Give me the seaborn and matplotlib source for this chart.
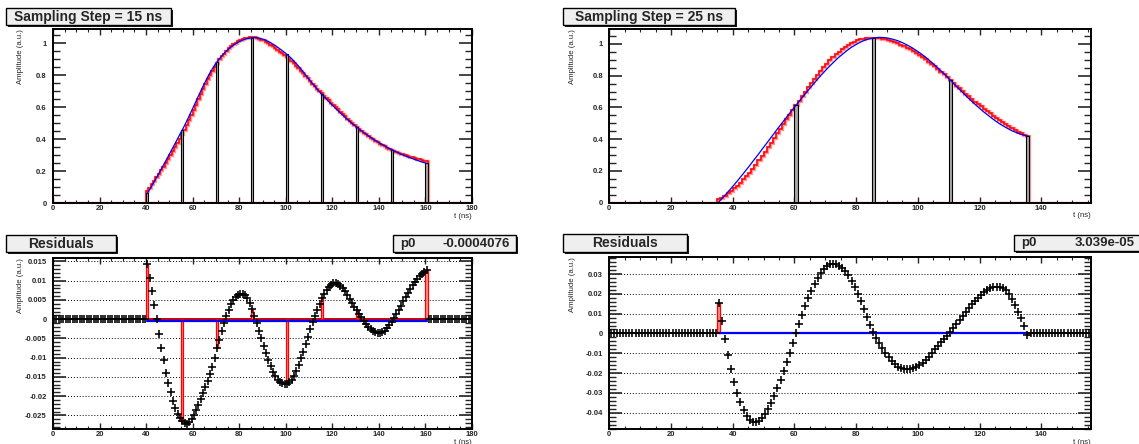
import numpy as np
import matplotlib
matplotlib.use("Agg")
import matplotlib.pyplot as plt
from matplotlib.patches import Rectangle
from matplotlib.ticker import FixedLocator, MultipleLocator
import seaborn as sns

W, H = 1139, 444

# ---------------- 15 ns sampling (1 ns bins, t = 40 ... 160) ----------------
t15_first, t15_last = 40, 160
pulse15 = [
    0.060, 0.084, 0.109, 0.134, 0.160, 0.186, 0.212, 0.239, 0.265, 0.292, 0.320, 0.347, 0.374, 0.402, 0.430,
    0.457, 0.485, 0.515, 0.545, 0.576, 0.608, 0.639, 0.671, 0.702, 0.732, 0.762, 0.790, 0.817, 0.842, 0.865,
    0.885, 0.904, 0.921, 0.937, 0.952, 0.965, 0.977, 0.988, 0.998, 1.007, 1.014, 1.021, 1.026, 1.030, 1.033,
    1.035, 1.036, 1.035, 1.033, 1.029, 1.025, 1.019, 1.012, 1.004, 0.995, 0.986, 0.976, 0.965, 0.954, 0.943,
    0.931, 0.918, 0.905, 0.889, 0.873, 0.857, 0.839, 0.821, 0.803, 0.784, 0.766, 0.748, 0.730, 0.712, 0.696,
    0.680, 0.665, 0.650, 0.635, 0.620, 0.606, 0.591, 0.577, 0.563, 0.550, 0.536, 0.523, 0.510, 0.498, 0.486,
    0.474, 0.463, 0.452, 0.441, 0.431, 0.420, 0.411, 0.401, 0.392, 0.383, 0.374, 0.366, 0.358, 0.349, 0.342,
    0.334, 0.327, 0.320, 0.313, 0.306, 0.300, 0.294, 0.288, 0.283, 0.278, 0.272, 0.267, 0.262, 0.257, 0.253,
    0.248]
recon15 = [
    0.074, 0.095, 0.116, 0.138, 0.160, 0.182, 0.205, 0.228, 0.251, 0.275, 0.301, 0.326, 0.351, 0.378, 0.404,
    0.431, 0.458, 0.488, 0.518, 0.550, 0.583, 0.615, 0.649, 0.681, 0.713, 0.745, 0.774, 0.803, 0.830, 0.855,
    0.877, 0.899, 0.918, 0.936, 0.953, 0.968, 0.981, 0.993, 1.004, 1.013, 1.021, 1.028, 1.032, 1.036, 1.037,
    1.038, 1.037, 1.034, 1.030, 1.024, 1.018, 1.010, 1.001, 0.992, 0.981, 0.971, 0.960, 0.949, 0.937, 0.926,
    0.914, 0.902, 0.889, 0.874, 0.860, 0.845, 0.829, 0.813, 0.797, 0.780, 0.763, 0.747, 0.731, 0.715, 0.700,
    0.686, 0.672, 0.658, 0.643, 0.629, 0.615, 0.600, 0.586, 0.572, 0.558, 0.543, 0.529, 0.515, 0.502, 0.489,
    0.476, 0.464, 0.453, 0.441, 0.430, 0.418, 0.409, 0.398, 0.389, 0.379, 0.370, 0.363, 0.355, 0.347, 0.340,
    0.333, 0.327, 0.321, 0.315, 0.310, 0.305, 0.300, 0.295, 0.291, 0.287, 0.282, 0.278, 0.273, 0.269, 0.265,
    0.261]
resid15 = [
    0.0143, 0.0108, 0.0074, 0.0036, 0.0000, -0.0039, -0.0074, -0.0106, -0.0139, -0.0167, -0.0190, -0.0213, -0.0230, -0.0245, -0.0256,
    -0.0264, -0.0270, -0.0271, -0.0268, -0.0260, -0.0250, -0.0237, -0.0223, -0.0207, -0.0192, -0.0175, -0.0160, -0.0143, -0.0124, -0.0101,
    -0.0076, -0.0053, -0.0031, -0.0011, 0.0008, 0.0025, 0.0039, 0.0050, 0.0058, 0.0063, 0.0066, 0.0066, 0.0062, 0.0055, 0.0043,
    0.0027, 0.0009, -0.0010, -0.0030, -0.0050, -0.0070, -0.0089, -0.0106, -0.0122, -0.0136, -0.0148, -0.0157, -0.0163, -0.0167, -0.0169,
    -0.0168, -0.0164, -0.0157, -0.0147, -0.0134, -0.0119, -0.0102, -0.0084, -0.0065, -0.0045, -0.0026, -0.0008, 0.0009, 0.0025, 0.0040,
    0.0055, 0.0065, 0.0075, 0.0083, 0.0089, 0.0093, 0.0094, 0.0092, 0.0086, 0.0080, 0.0072, 0.0063, 0.0053, 0.0043, 0.0033,
    0.0024, 0.0014, 0.0005, -0.0004, -0.0012, -0.0019, -0.0025, -0.0030, -0.0034, -0.0036, -0.0036, -0.0034, -0.0030, -0.0024, -0.0016,
    -0.0008, 0.0002, 0.0013, 0.0024, 0.0035, 0.0046, 0.0057, 0.0068, 0.0078, 0.0088, 0.0097, 0.0105, 0.0112, 0.0118, 0.0123,
    0.0127]
samples15_t = [40, 55, 70, 85, 100, 115, 130, 145, 160]
samples15_v = [0.060, 0.457, 0.885, 1.035, 0.931, 0.680, 0.474, 0.334, 0.248]
p0_15 = -0.0004076
p0_15_text = "-0.0004076"

# ---------------- 25 ns sampling (1 ns bins, t = 35 ... 135) ----------------
t25_first, t25_last = 35, 135
pulse25 = [
    0.006, 0.026, 0.047, 0.069, 0.091, 0.114, 0.137, 0.161, 0.185, 0.210, 0.234, 0.260, 0.285, 0.310, 0.336, 0.362, 0.387, 0.413, 0.439, 0.465, 0.490, 0.515, 0.540, 0.565, 0.590,
    0.614, 0.638, 0.662, 0.686, 0.709, 0.732, 0.755, 0.778, 0.800, 0.821, 0.842, 0.862, 0.881, 0.900, 0.918, 0.934, 0.950, 0.965, 0.979, 0.991, 1.002, 1.012, 1.021, 1.028, 1.033,
    1.037, 1.039, 1.041, 1.040, 1.039, 1.036, 1.031, 1.026, 1.020, 1.012, 1.003, 0.993, 0.983, 0.971, 0.958, 0.945, 0.931, 0.916, 0.900, 0.883, 0.866, 0.848, 0.830, 0.811, 0.792,
    0.772, 0.752, 0.732, 0.713, 0.694, 0.675, 0.656, 0.638, 0.620, 0.603, 0.586, 0.569, 0.554, 0.539, 0.524, 0.510, 0.497, 0.485, 0.474, 0.463, 0.453, 0.445, 0.437, 0.430, 0.425,
    0.420]
recon25 = [
    0.022, 0.032, 0.044, 0.058, 0.073, 0.090, 0.107, 0.127, 0.147, 0.169, 0.190, 0.215, 0.240, 0.266, 0.293, 0.321, 0.349, 0.378, 0.408, 0.437, 0.467, 0.496, 0.526, 0.555, 0.585,
    0.614, 0.643, 0.671, 0.700, 0.727, 0.754, 0.780, 0.806, 0.831, 0.854, 0.876, 0.897, 0.916, 0.935, 0.952, 0.967, 0.981, 0.994, 1.006, 1.015, 1.022, 1.028, 1.033, 1.036, 1.037,
    1.038, 1.037, 1.036, 1.032, 1.029, 1.024, 1.017, 1.010, 1.003, 0.994, 0.985, 0.975, 0.965, 0.953, 0.941, 0.929, 0.916, 0.903, 0.888, 0.873, 0.858, 0.842, 0.826, 0.808, 0.791,
    0.773, 0.755, 0.737, 0.720, 0.703, 0.686, 0.669, 0.653, 0.636, 0.621, 0.606, 0.590, 0.576, 0.562, 0.547, 0.534, 0.521, 0.508, 0.496, 0.483, 0.470, 0.459, 0.448, 0.438, 0.429,
    0.419]
resid25 = [
    0.0155, 0.0062, -0.0030, -0.0110, -0.0178, -0.0244, -0.0300, -0.0345, -0.0385, -0.0415, -0.0436, -0.0447, -0.0448, -0.0441, -0.0427, -0.0407, -0.0381, -0.0350, -0.0315, -0.0276, -0.0234, -0.0190, -0.0144, -0.0097, -0.0050,
    0.0000, 0.0046, 0.0092, 0.0137, 0.0178, 0.0216, 0.0250, 0.0280, 0.0305, 0.0325, 0.0340, 0.0349, 0.0352, 0.0350, 0.0342, 0.0330, 0.0314, 0.0293, 0.0267, 0.0236, 0.0200, 0.0162, 0.0122, 0.0082, 0.0044,
    0.0006, -0.0022, -0.0050, -0.0076, -0.0099, -0.0121, -0.0140, -0.0156, -0.0169, -0.0177, -0.0182, -0.0182, -0.0180, -0.0176, -0.0169, -0.0160, -0.0148, -0.0134, -0.0118, -0.0100, -0.0081, -0.0062, -0.0043, -0.0030, -0.0013,
    0.0005, 0.0025, 0.0048, 0.0068, 0.0090, 0.0110, 0.0129, 0.0147, 0.0163, 0.0180, 0.0195, 0.0208, 0.0219, 0.0228, 0.0234, 0.0237, 0.0236, 0.0230, 0.0219, 0.0200, 0.0174, 0.0143, 0.0110, 0.0076, 0.0038,
    -0.0008]
samples25_t = [35, 60, 85, 110, 135]
samples25_v = [0.006, 0.614, 1.037, 0.772, 0.420]
p0_25 = 3.039e-05
p0_25_text = "3.039e-05"

# ---------------- axis ticks / labels ----------------
xticks15 = [0, 20, 40, 60, 80, 100, 120, 140, 160, 180]
xticks25 = [0, 20, 40, 60, 80, 100, 120, 140]
amp_ticks = [0, 0.2, 0.4, 0.6, 0.8, 1.0]
amp_labels = ["0", "0.2", "0.4", "0.6", "0.8", "1"]
res15_ticks = [-0.025, -0.02, -0.015, -0.01, -0.005, 0, 0.005, 0.01, 0.015]
res15_labels = ["-0.025", "-0.02", "-0.015", "-0.01", "-0.005", "0", "0.005", "0.01", "0.015"]
res25_ticks = [-0.04, -0.03, -0.02, -0.01, 0, 0.01, 0.02, 0.03]
res25_labels = ["-0.04", "-0.03", "-0.02", "-0.01", "0", "0.01", "0.02", "0.03"]

sns.set_style("ticks")
plt.rcParams.update({
    "font.family": ["Liberation Sans", "DejaVu Sans"],
    "font.weight": "bold",
    "axes.linewidth": 1.4,
    "axes.edgecolor": "black",
})

fig = plt.figure(figsize=(W / 100, H / 100), dpi=100)
fig.patch.set_facecolor("white")


def px_axes(x0, y0, x1, y1):
    return fig.add_axes([x0 / W, 1 - y1 / H, (x1 - x0) / W, (y1 - y0) / H])


def style_axes(ax, xmax, ylim, xticks, yticks, ylabels, yminor):
    ax.set_xlim(0, xmax)
    ax.set_ylim(*ylim)
    ax.xaxis.set_major_locator(FixedLocator(xticks))
    ax.set_xticklabels([str(v) for v in xticks])
    ax.xaxis.set_minor_locator(MultipleLocator(5))
    ax.yaxis.set_major_locator(FixedLocator(yticks))
    ax.set_yticklabels(ylabels)
    ax.yaxis.set_minor_locator(MultipleLocator(yminor))
    ax.tick_params(axis="x", which="major", direction="in", length=4, width=1,
                   top=True, bottom=True, labelsize=5.5, pad=1.5)
    ax.tick_params(axis="x", which="minor", direction="in", length=2, width=0.8,
                   top=True, bottom=True)
    ax.tick_params(axis="y", which="major", direction="in", length=9.5, width=1.2,
                   left=True, right=True, labelsize=5.5, pad=4.5)
    ax.tick_params(axis="y", which="minor", direction="in", length=5, width=1,
                   left=True, right=True)
    ax.set_ylabel("Amplitude (a.u.)", fontsize=5.6, loc="top")
    ax.yaxis.set_label_coords(-0.069, 1.0)
    ax.set_xlabel("t (ns)", fontsize=5.6, loc="right")
    ax.xaxis.set_label_coords(1.0, -0.055)
    for s in ax.spines.values():
        s.set_linewidth(1.4)
        s.set_zorder(6)


def draw_pulse(ax, first, last, pulse, recon, st, sv):
    t = np.arange(first, last + 1)
    edges = np.arange(first, last + 2)
    ax.axhline(0, color="red", lw=1.6, zorder=2)
    ax.stairs(recon, edges, baseline=0, color="#ff9a9a", lw=2.4, zorder=2)
    ax.stairs(recon, edges, baseline=0, color="red", lw=1.1, zorder=3)
    ax.bar(st, sv, width=1, align="edge", facecolor="#a8a8a8",
           edgecolor="black", linewidth=0.8, zorder=4)
    sns.lineplot(x=t + 0.5, y=pulse, ax=ax, color="blue", lw=0.9,
                 estimator=None, sort=False, zorder=5)


def draw_resid(ax, first, last, resid, st, p0, xmax):
    t = np.arange(first, last + 1)
    ax.grid(axis="y", which="major", color="black", linestyle=(0, (1, 2)), lw=0.7)
    ax.axhline(0, color="#cc0000", lw=1.4, zorder=2)
    r = np.asarray(resid)
    sv = [r[s - first] for s in st]
    ax.bar(st, sv, width=1, align="edge", facecolor="#ff9090",
           edgecolor="red", linewidth=0.9, zorder=3)
    sns.lineplot(x=[first + 0.5, last + 0.5], y=[p0, p0], ax=ax, color="blue",
                 lw=1.6, zorder=4)
    # empty bins outside the pulse window sit at zero
    t_out = np.r_[np.arange(0, first), np.arange(last + 1, xmax)]
    x_all = np.r_[t_out + 0.5, t + 0.5]
    y_all = np.r_[np.zeros(len(t_out)), r]
    sns.scatterplot(x=x_all, y=y_all, ax=ax, marker="+", s=26, color="black",
                    linewidth=1.15, legend=False, zorder=5)


def pave(x0, y0, x1, y1):
    fig.add_artist(Rectangle(((x0 + 2) / W, 1 - (y1 + 2) / H), (x1 - x0) / W, (y1 - y0) / H,
                             transform=fig.transFigure, facecolor="#1a1a1a",
                             edgecolor="none", zorder=10))
    fig.add_artist(Rectangle((x0 / W, 1 - y1 / H), (x1 - x0) / W, (y1 - y0) / H,
                             transform=fig.transFigure, facecolor="#efefef",
                             edgecolor="black", linewidth=1.0, zorder=11))


def title_box(x0, y0, x1, y1, text, fs=10):
    pave(x0, y0, x1, y1)
    fig.text((x0 + x1) / 2 / W, 1 - (y0 + y1) / 2 / H, text, ha="center",
             va="center", fontsize=fs, fontweight="bold", zorder=12)


def stat_box(x0, y0, x1, y1, name, value):
    pave(x0, y0, x1, y1)
    yc = 1 - (y0 + y1) / 2 / H
    fig.text((x0 + 7) / W, yc, name, ha="left", va="center", fontsize=9.5,
             fontweight="bold", zorder=12)
    fig.text((x1 - 6) / W, yc, value, ha="right", va="center", fontsize=9.5,
             fontweight="bold", zorder=12)


# ---- top left: 15 ns ----
ax_tl = px_axes(53, 29, 472, 203)
draw_pulse(ax_tl, t15_first, t15_last, pulse15, recon15, samples15_t, samples15_v)
style_axes(ax_tl, 180, (0, 1.09), xticks15, amp_ticks, amp_labels, 0.05)

# ---- top right: 25 ns ----
ax_tr = px_axes(609.3, 29.3, 1090.7, 202.7)
draw_pulse(ax_tr, t25_first, t25_last, pulse25, recon25, samples25_t, samples25_v)
style_axes(ax_tr, 156, (0, 1.092), xticks25, amp_ticks, amp_labels, 0.05)

# ---- bottom left: residuals 15 ns ----
ax_bl = px_axes(53, 258, 472, 429.3)
draw_resid(ax_bl, t15_first, t15_last, resid15, samples15_t, p0_15, 180)
style_axes(ax_bl, 180, (-0.0286, 0.0159), xticks15, res15_ticks, res15_labels, 0.001)

# ---- bottom right: residuals 25 ns ----
ax_br = px_axes(609.3, 257, 1090.7, 429.3)
draw_resid(ax_br, t25_first, t25_last, resid25, samples25_t, p0_25, 156)
style_axes(ax_br, 156, (-0.0484, 0.0386), xticks25, res25_ticks, res25_labels, 0.002)

title_box(6, 8, 171, 25, "Sampling Step = 15 ns")
title_box(563, 8, 735, 25, "Sampling Step = 25 ns")
title_box(6, 235, 116, 252, "Residuals")
title_box(563, 234, 687, 252, "Residuals")
stat_box(393, 235, 516, 252, "p0", p0_15_text)
stat_box(1014, 235, 1141, 251, "p0", p0_25_text)

fig.savefig("out.png", dpi=100, facecolor="white")
